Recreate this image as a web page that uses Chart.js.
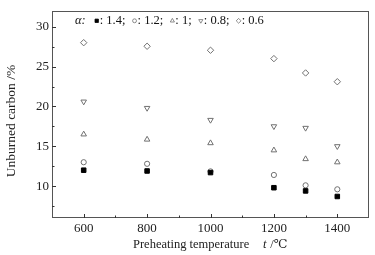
<!DOCTYPE html>
<html>
<head>
<meta charset="utf-8">
<script src="https://cdn.jsdelivr.net/npm/chart.js@4.4.0/dist/chart.umd.min.js"></script>
<style>
  html, body { margin: 0; padding: 0; background: #fff; }
  #wrap { width: 375px; height: 255px; }
</style>
</head>
<body>
<div id="wrap"><canvas id="c" width="375" height="255"></canvas></div>
<script>
// preheating temperature (°C)
var temps = [600, 800, 1000, 1200, 1300, 1400];
// unburned carbon (%) for each excess air ratio α
var alpha14 = [12.0, 11.9, 11.7, 9.8, 9.4, 8.7];
var alpha12 = [13.0, 12.8, 11.85, 11.4, 10.1, 9.6];
var alpha10 = [16.5, 15.85, 15.4, 14.5, 13.4, 13.0];
var alpha08 = [20.6, 19.8, 18.3, 17.5, 17.3, 15.0];
var alpha06 = [28.0, 27.55, 27.05, 26.0, 24.2, 23.1];
var seriesLabels = ['1.4;', '1.2;', '1;', '0.8;', '0.6'];

var xTicks = [600, 800, 1000, 1200, 1400];
var xMinor = [700, 900, 1100, 1300];
var yTicks = [10, 15, 20, 25, 30];
var yMinor = [7.5, 12.5, 17.5, 22.5, 27.5];

var SERIF = "'Liberation Serif', 'DejaVu Serif', serif";
var GREY = '#707070';

function pts(ys) {
  return temps.map(function (t, i) { return { x: t, y: ys[i] }; });
}

var styles = [
  { pointStyle: 'rect', radius: 3.2, fill: '#000', stroke: '#000', rot: 0 },
  { pointStyle: 'circle', radius: 2.6, fill: 'rgba(0,0,0,0)', stroke: GREY, rot: 0 },
  { pointStyle: 'triangle', radius: 3.2, fill: 'rgba(0,0,0,0)', stroke: GREY, rot: 0 },
  { pointStyle: 'triangle', radius: 3.2, fill: 'rgba(0,0,0,0)', stroke: GREY, rot: 180 },
  { pointStyle: 'rectRot', radius: 3.2, fill: 'rgba(0,0,0,0)', stroke: GREY, rot: 0 }
];
var allSeries = [alpha14, alpha12, alpha10, alpha08, alpha06];

var datasets = allSeries.map(function (s, i) {
  var st = styles[i];
  return {
    label: seriesLabels[i],
    data: pts(s),
    showLine: false,
    pointStyle: st.pointStyle,
    pointRadius: st.radius,
    pointRotation: st.rot,
    pointBackgroundColor: st.fill,
    pointBorderColor: st.stroke,
    pointBorderWidth: 1,
    pointHoverRadius: st.radius
  };
});

// box, inward ticks, legend and axis titles
var decor = {
  id: 'decor',
  afterDraw: function (chart) {
    var ctx = chart.ctx, a = chart.chartArea;
    var xs = chart.scales.x, ys = chart.scales.y;
    ctx.save();
    ctx.strokeStyle = '#555';
    ctx.lineWidth = 1;
    ctx.strokeRect(Math.round(a.left) + 0.5, Math.round(a.top) + 0.5,
      Math.round(a.right - a.left) - 1, Math.round(a.bottom - a.top) - 1);

    ctx.strokeStyle = '#333';
    ctx.beginPath();
    xTicks.forEach(function (v) {
      var px = Math.round(xs.getPixelForValue(v)) + 0.5;
      ctx.moveTo(px, a.bottom); ctx.lineTo(px, a.bottom - 4);
    });
    xMinor.forEach(function (v) {
      var px = Math.round(xs.getPixelForValue(v)) + 0.5;
      ctx.moveTo(px, a.bottom); ctx.lineTo(px, a.bottom - 2.5);
    });
    yTicks.forEach(function (v) {
      var py = Math.round(ys.getPixelForValue(v)) + 0.5;
      ctx.moveTo(a.left, py); ctx.lineTo(a.left + 4, py);
    });
    yMinor.forEach(function (v) {
      var py = Math.round(ys.getPixelForValue(v)) + 0.5;
      ctx.moveTo(a.left, py); ctx.lineTo(a.left + 2.5, py);
    });
    ctx.stroke();

    // legend
    ctx.fillStyle = '#111';
    ctx.textBaseline = 'middle';
    ctx.textAlign = 'left';
    var ly = a.top + 10;
    var lx = 75;
    ctx.font = 'italic 12.5px ' + SERIF;
    ctx.fillText('\u03b1:', lx, ly);
    lx += ctx.measureText('\u03b1:').width + 9;
    ctx.font = '12.5px ' + SERIF;
    chart.data.datasets.forEach(function (ds, i) {
      var st = styles[i];
      ctx.save();
      ctx.strokeStyle = st.stroke;
      ctx.fillStyle = st.fill;
      ctx.lineWidth = 0.8;
      Chart.helpers.drawPoint(ctx, {
        pointStyle: st.pointStyle,
        radius: st.radius * 0.75,
        rotation: st.rot,
        borderWidth: 0.8
      }, lx + 2, ly);
      ctx.restore();
      lx += 5;
      var txt = ': ' + ds.label + (i < 4 ? ' ' : '');
      ctx.fillText(txt, lx, ly);
      lx += ctx.measureText(txt).width + 4;
    });

    // x axis title
    var ty = 245;
    ctx.fillStyle = '#222';
    ctx.font = '12.5px ' + SERIF;
    ctx.fillText('Preheating temperature', 133, ty);
    ctx.font = 'italic 12.5px ' + SERIF;
    ctx.fillText('t', 263, ty);
    ctx.font = '12.5px ' + SERIF;
    ctx.fillText(' /\u2103', 267, ty);

    // y axis title
    ctx.translate(11, 121);
    ctx.rotate(-Math.PI / 2);
    ctx.textAlign = 'center';
    ctx.font = '13.5px ' + SERIF;
    ctx.fillText('Unburned carbon /%', 0, 0);
    ctx.restore();
  }
};

new Chart(document.getElementById('c').getContext('2d'), {
  type: 'scatter',
  data: { datasets: datasets },
  options: {
    responsive: false,
    animation: false,
    layout: { padding: { top: 9, right: 6, left: 0, bottom: 0 } },
    plugins: { legend: { display: false }, tooltip: { enabled: false } },
    scales: {
      x: {
        type: 'linear', min: 500, max: 1500,
        afterBuildTicks: function (s) { s.ticks = xTicks.map(function (v) { return { value: v }; }); },
        afterFit: function (s) { s.height = 37; },
        grid: { display: false, drawTicks: false },
        border: { display: false },
        ticks: {
          padding: 3, color: '#222', font: { family: SERIF, size: 13 }, maxRotation: 0,
          callback: function (v) { return String(v); }
        }
      },
      y: {
        type: 'linear', min: 6, max: 32,
        afterBuildTicks: function (s) { s.ticks = yTicks.map(function (v) { return { value: v }; }); },
        afterFit: function (s) { s.width = 52; },
        grid: { display: false, drawTicks: false },
        border: { display: false },
        ticks: {
          padding: 3, color: '#222', font: { family: SERIF, size: 13 },
          callback: function (v) { return String(v); }
        }
      }
    }
  },
  plugins: [decor]
});
</script>
</body>
</html>
